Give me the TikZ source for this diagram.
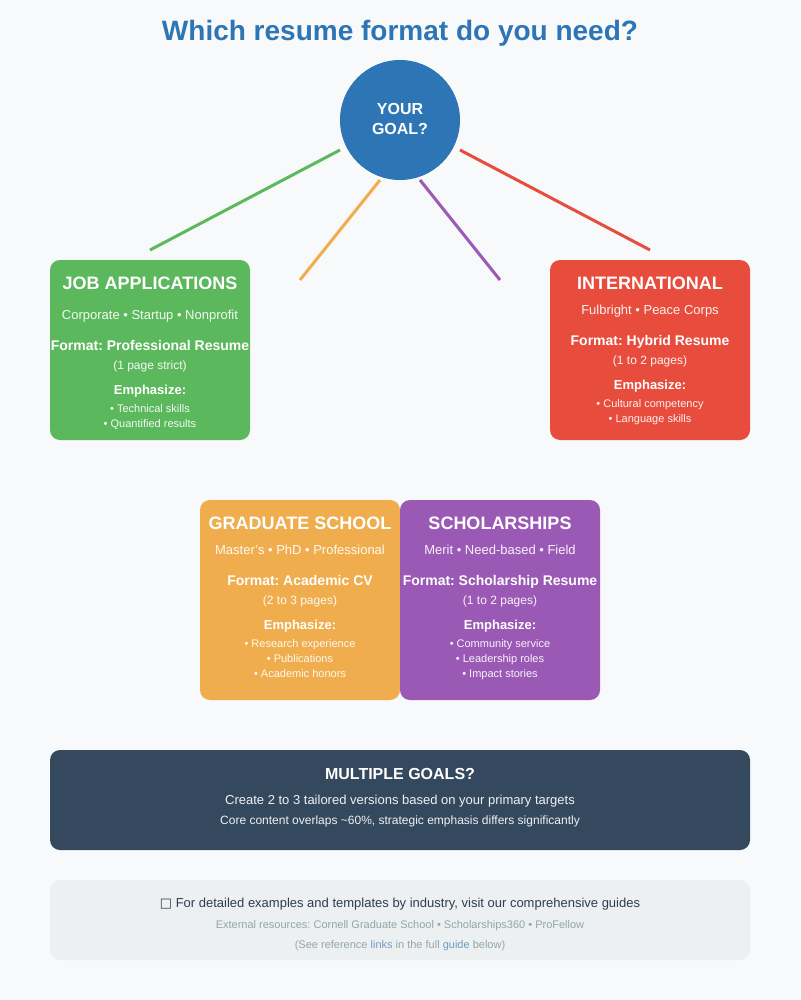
\documentclass[tikz,border=0pt]{standalone}
\usepackage{fontspec}
\setmainfont{Liberation Sans}
\newfontfamily\symfont{DejaVu Sans}
\frenchspacing
\begin{document}
\begin{tikzpicture}[x=1pt,y=-1pt,
  fs/.style={font=\fontsize{#1}{#1}\selectfont, anchor=base, yshift={-0.36*#1pt}},
  fsb/.style={font=\fontsize{#1}{#1}\selectfont\bfseries, anchor=base, yshift={-0.36*#1pt}},
  card/.style={rounded corners=10pt, draw=none},
  wt/.style={text=white, inner sep=0pt},
  st/.style={text=white, text opacity=0.92, inner sep=0pt},
  conn/.style={line width=3pt}
]
\definecolor{bg}{HTML}{F8F9FA}
\definecolor{tblue}{HTML}{2E75B6}
\definecolor{cgreen}{HTML}{5CB85C}
\definecolor{corange}{HTML}{F0AD4E}
\definecolor{cpurple}{HTML}{9B59B6}
\definecolor{cred}{HTML}{E74C3C}
\definecolor{cdark}{HTML}{34495E}
\definecolor{cfoot}{HTML}{ECF0F1}
\definecolor{ftext}{HTML}{2C3E50}
\definecolor{fgray}{HTML}{95A5A6}
\definecolor{flink}{HTML}{6E9BC4}

\useasboundingbox (0,0) rectangle (800,1000);
\fill[bg] (0,0) rectangle (800,1000);

% title
\node[fsb=28, text=tblue, inner sep=0pt] (title) at (400,30) {Which resume format do you need?};

% connectors coordinates
\coordinate (g1) at (340,150); \coordinate (g2) at (150,250);
\coordinate (o1) at (380,180); \coordinate (o2) at (300,280);
\coordinate (p1) at (420,180); \coordinate (p2) at (500,280);
\coordinate (r1) at (460,150); \coordinate (r2) at (650,250);
\draw[conn, cgreen] (g1) -- (g2);
\draw[conn, corange] (o1) -- (o2);
\draw[conn, cpurple] (p1) -- (p2);
\draw[conn, cred] (r1) -- (r2);

% circle
\node[circle, fill=tblue, minimum size=120pt, inner sep=0pt] (goal) at (400,120) {};
\node[wt, fsb=16] (goal1) at (400,109) {YOUR};
\node[wt, fsb=16] (goal2) at (400,129) {GOAL?};

% green card
\fill[card, cgreen] (50,260) rectangle (250,440);
\node[wt, fsb=18] (jt) at (150,283) {JOB APPLICATIONS};
\node[st, fs=13] (js) at (150,315) {Corporate • Startup • Nonprofit};
\node[wt, fsb=14] (jf) at (150,345) {Format: Professional Resume};
\node[st, fs=12] (jp) at (150,365) {(1 page strict)};
\node[wt, fsb=13] (je) at (150,390) {Emphasize:};
\node[st, fs=11] (jb1) at (150,409) {• Technical skills};
\node[st, fs=11] (jb2) at (150,424) {• Quantified results};

% red card
\fill[card, cred] (550,260) rectangle (750,440);
\node[wt, fsb=18] (it) at (650,283) {INTERNATIONAL};
\node[st, fs=13] (is) at (650,310) {Fulbright • Peace Corps};
\node[wt, fsb=14] (if) at (650,340) {Format: Hybrid Resume};
\node[st, fs=12] (ip) at (650,360) {(1 to 2 pages)};
\node[wt, fsb=13] (ie) at (650,385) {Emphasize:};
\node[st, fs=11] (ib1) at (650,404) {• Cultural competency};
\node[st, fs=11] (ib2) at (650,419) {• Language skills};

% orange card
\fill[card, corange] (200,500) rectangle (400,700);
\node[wt, fsb=18] (gt) at (300,523) {GRADUATE SCHOOL};
\node[st, fs=13] (gs) at (300,550) {Master{\char"27}s • PhD • Professional};
\node[wt, fsb=14] (gf) at (300,580) {Format: Academic CV};
\node[st, fs=12] (gp) at (300,600) {(2 to 3 pages)};
\node[wt, fsb=13] (ge) at (300,625) {Emphasize:};
\node[st, fs=11] (gb1) at (300,644) {• Research experience};
\node[st, fs=11] (gb2) at (300,659) {• Publications};
\node[st, fs=11] (gb3) at (300,674) {• Academic honors};

% purple card
\fill[card, cpurple] (400,500) rectangle (600,700);
\node[wt, fsb=18] (st) at (500,523) {SCHOLARSHIPS};
\node[st, fs=13] (ss) at (500,550) {Merit • Need-based • Field};
\node[wt, fsb=14] (sf) at (500,580) {Format: Scholarship Resume};
\node[st, fs=12] (sp) at (500,600) {(1 to 2 pages)};
\node[wt, fsb=13] (se) at (500,625) {Emphasize:};
\node[st, fs=11] (sb1) at (500,644) {• Community service};
\node[st, fs=11] (sb2) at (500,659) {• Leadership roles};
\node[st, fs=11] (sb3) at (500,674) {• Impact stories};

% dark box
\fill[card, cdark] (50,750) rectangle (750,850);
\node[wt, fsb=16] (mt) at (400,774) {MULTIPLE GOALS?};
\node[st, fs=13] (m1) at (400,800) {Create 2 to 3 tailored versions based on your primary targets};
\node[st, fs=12] (m2) at (400,820) {Core content overlaps \textasciitilde60\%, strategic emphasis differs significantly};

% footer
\fill[card, cfoot] (50,880) rectangle (750,960);
\node[inner sep=0pt, fs=13, text=ftext] (f1) at (400,903) {{\symfont□} For detailed examples and templates by industry, visit our comprehensive guides};
\node[inner sep=0pt, fs=11, text=fgray] (f2) at (400,925) {External resources: Cornell Graduate School • Scholarships360 • ProFellow};
\node[inner sep=0pt, fs=11, text=fgray] (f3) at (400,945) {(See reference \textcolor{flink}{links} in the full \textcolor{flink}{guide} below)};
\end{tikzpicture}
\end{document}
